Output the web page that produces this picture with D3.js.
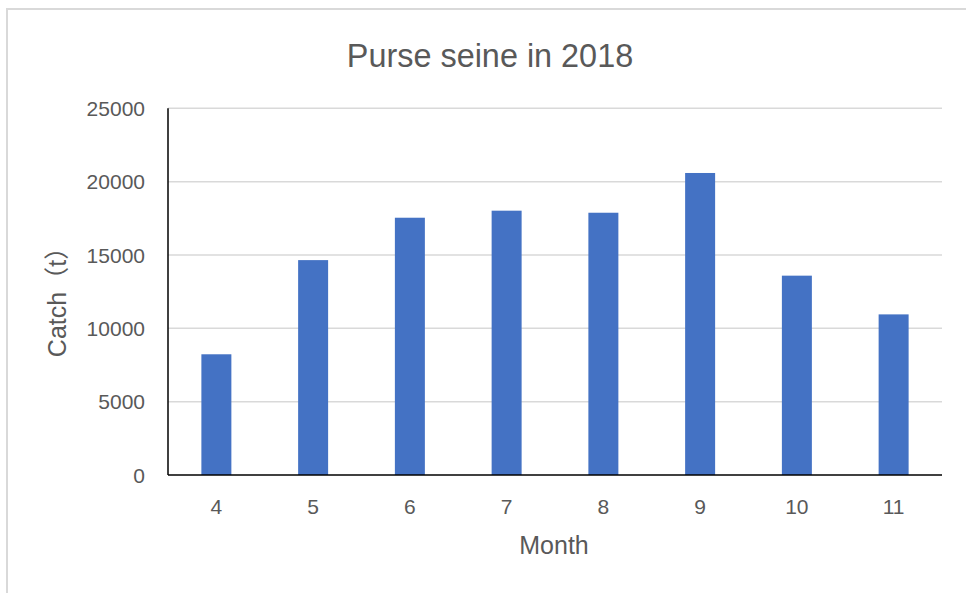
<!DOCTYPE html>
<html>
<head>
<meta charset="utf-8">
<script src="https://cdn.jsdelivr.net/npm/d3@7"></script>
<style>
  html, body { margin: 0; padding: 0; background: #fff; }
  svg { display: block; }
  text { font-family: "Liberation Sans", Arial, "Noto Sans CJK SC", sans-serif; fill: #595959; }
</style>
</head>
<body>
<script>
const months = ["4", "5", "6", "7", "8", "9", "10", "11"];
const catchValues = [8230, 14650, 17540, 18020, 17880, 20590, 13590, 10950];
const yTicks = [0, 5000, 10000, 15000, 20000, 25000];
const titleText = "Purse seine in 2018";
const xTitle = "Month";
const yTitle = "Catch（t）";

const W = 966, H = 593;
const plotLeft = 168, plotRight = 942, plotTop = 108.3, plotBottom = 475;

const svg = d3.select("body").append("svg").attr("width", W).attr("height", H);

svg.append("rect")
  .attr("x", 7).attr("y", 9).attr("width", 980).attr("height", 600)
  .attr("fill", "#fff").attr("stroke", "#d9d9d9").attr("stroke-width", 2);

const x = d3.scaleBand().domain(months).range([plotLeft, plotRight]).padding(0);
const y = d3.scaleLinear().domain([0, 25000]).range([plotBottom, plotTop]);

// gridlines
svg.append("g").selectAll("line").data(yTicks.filter(d => d > 0)).join("line")
  .attr("x1", plotLeft).attr("x2", plotRight)
  .attr("y1", d => y(d)).attr("y2", d => y(d))
  .attr("stroke", "#d9d9d9").attr("stroke-width", 1.5);

// bars
const bw = x.bandwidth() * 0.31;
svg.append("g").selectAll("rect").data(months).join("rect")
  .attr("x", (d) => x(d) + x.bandwidth() / 2 - bw / 2)
  .attr("y", (d, i) => y(catchValues[i]))
  .attr("width", bw)
  .attr("height", (d, i) => plotBottom - y(catchValues[i]))
  .attr("fill", "#4472c4");

// axes lines
svg.append("line").attr("x1", plotLeft).attr("x2", plotLeft).attr("y1", plotTop).attr("y2", plotBottom)
  .attr("stroke", "#000").attr("stroke-width", 1.5);
svg.append("line").attr("x1", plotLeft).attr("x2", plotRight).attr("y1", plotBottom).attr("y2", plotBottom)
  .attr("stroke", "#000").attr("stroke-width", 1.5);

// y tick labels
svg.append("g").selectAll("text").data(yTicks).join("text")
  .attr("x", 145).attr("y", d => y(d)).attr("dy", "0.36em")
  .attr("text-anchor", "end").attr("font-size", 21)
  .text(d => d);

// x tick labels
svg.append("g").selectAll("text").data(months).join("text")
  .attr("x", d => x(d) + x.bandwidth() / 2).attr("y", 514)
  .attr("text-anchor", "middle").attr("font-size", 21)
  .text(d => d);

// title
svg.append("text").attr("x", 490).attr("y", 66.5).attr("text-anchor", "middle")
  .attr("font-size", 32.4).text(titleText);

// x title
svg.append("text").attr("x", 554).attr("y", 554).attr("text-anchor", "middle")
  .attr("font-size", 25).text(xTitle);

// y title
svg.append("text").attr("transform", "translate(66,296) rotate(-90)")
  .attr("text-anchor", "middle").attr("font-size", 25).text(yTitle);
</script>
</body>
</html>
